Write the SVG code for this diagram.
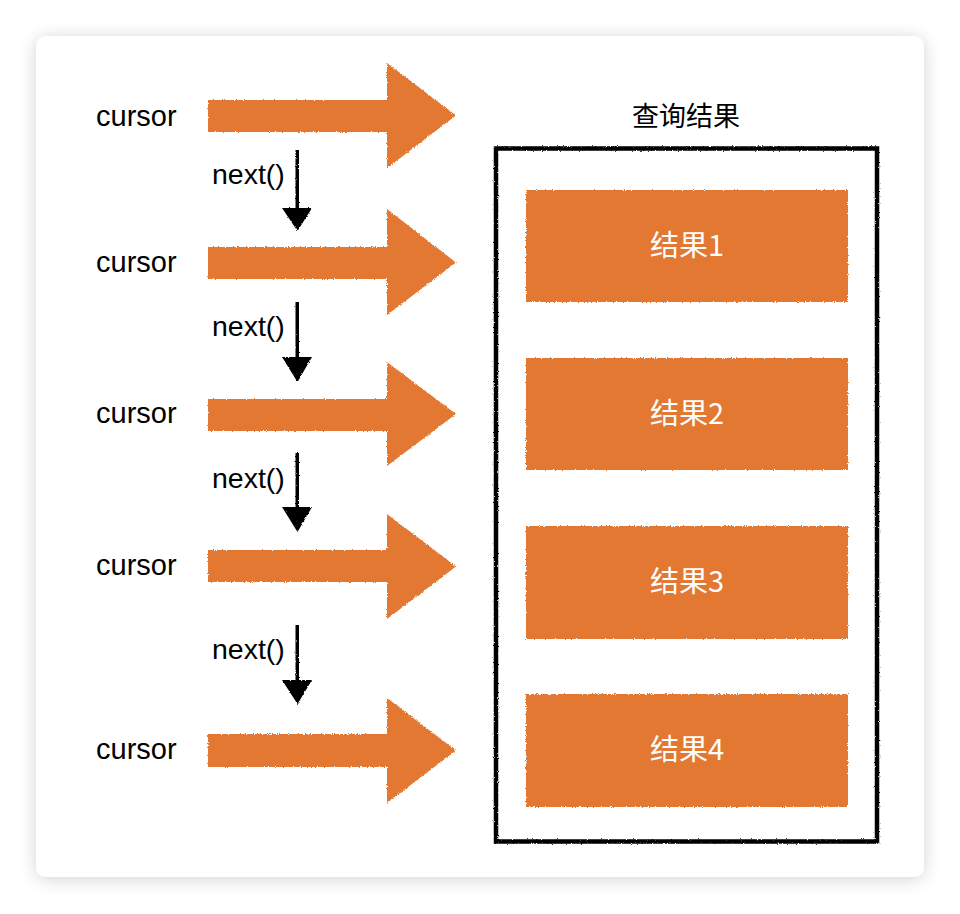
<svg xmlns="http://www.w3.org/2000/svg" width="960" height="914" viewBox="0 0 960 914">
<defs>
<filter id="shadow" x="-10%" y="-10%" width="120%" height="120%">
<feGaussianBlur in="SourceAlpha" stdDeviation="9"/>
<feOffset dx="0" dy="2" result="b"/>
<feComponentTransfer><feFuncA type="linear" slope="0.18"/></feComponentTransfer>
<feMerge><feMergeNode/><feMergeNode in="SourceGraphic"/></feMerge>
</filter>
<filter id="rough" x="-5%" y="-5%" width="110%" height="110%">
<feTurbulence type="fractalNoise" baseFrequency="0.9" numOctaves="2" seed="3" result="n"/>
<feDisplacementMap in="SourceGraphic" in2="n" scale="3" xChannelSelector="R" yChannelSelector="G"/>
</filter>
<filter id="roughK" x="-5%" y="-5%" width="110%" height="110%">
<feTurbulence type="fractalNoise" baseFrequency="1.2" numOctaves="2" seed="7" result="n"/>
<feDisplacementMap in="SourceGraphic" in2="n" scale="2.5" xChannelSelector="R" yChannelSelector="G"/>
</filter>
</defs>
<style>
.lbl{font-family:"Liberation Sans","Noto Sans CJK SC",sans-serif;font-size:29px;fill:#000}
.nxt{font-family:"Liberation Sans","Noto Sans CJK SC",sans-serif;font-size:28.5px;fill:#000}
.ttl{font-family:"Noto Sans CJK SC","Liberation Sans",sans-serif;font-size:27px;fill:#000;text-anchor:middle}
.res{font-family:"Noto Sans CJK SC","Liberation Sans",sans-serif;font-size:29px;fill:#fff;text-anchor:middle}
.org{fill:#E27830}
.blk{fill:#000}
</style>
<rect width="960" height="914" fill="#ffffff"/>
<rect x="36" y="36" width="888" height="841" rx="10" fill="#ffffff" filter="url(#shadow)"/>

<g id="cursor-labels">
<text class="lbl" x="96" y="126">cursor</text>
<text class="lbl" x="96" y="272">cursor</text>
<text class="lbl" x="96" y="423">cursor</text>
<text class="lbl" x="96" y="575">cursor</text>
<text class="lbl" x="96" y="759">cursor</text>
</g>

<g id="connectors">
<g filter="url(#rough)" class="org">
<path id="arrow1" d="M208 100 H387 V63 L456 115.5 L387 168 V132 H208 Z"/>
<path id="arrow2" d="M208 247 H387 V209 L456 262.5 L387 315 V279 H208 Z"/>
<path id="arrow3" d="M208 399 H387 V362 L456 414 L387 466 V431 H208 Z"/>
<path id="arrow4" d="M208 550 H387 V514 L456 566.5 L387 619 V582 H208 Z"/>
<path id="arrow5" d="M208 734 H387 V698 L456 750.5 L387 803 V767 H208 Z"/>
</g>
<g filter="url(#roughK)" class="blk">
<path d="M295.5 150 H299 V208 H312 L297.5 231 L282 208 H295.5 Z"/>
<path d="M295.5 302 H299 V357 H312 L297.5 382 L282 357 H295.5 Z"/>
<path d="M295.5 453 H299 V507 H312 L297.5 532 L282 507 H295.5 Z"/>
<path d="M295.5 625 H299 V680 H312 L297.5 704 L282 680 H295.5 Z"/>
</g>
<text class="nxt" x="212" y="184">next()</text>
<text class="nxt" x="212" y="336">next()</text>
<text class="nxt" x="212" y="488">next()</text>
<text class="nxt" x="212" y="659">next()</text>
</g>

<g id="results-container">
<text class="ttl" x="686" y="126">查询结果</text>
<rect x="496" y="148.5" width="381" height="693" fill="none" stroke="#000" stroke-width="4.5" filter="url(#roughK)"/>
</g>

<g id="result1">
<rect class="org" x="526" y="190" width="322" height="112" filter="url(#rough)"/>
<text class="res" x="687" y="256">结果1</text>
</g>
<g id="result2">
<rect class="org" x="526" y="358" width="322" height="112" filter="url(#rough)"/>
<text class="res" x="687" y="424">结果2</text>
</g>
<g id="result3">
<rect class="org" x="526" y="526" width="322" height="113" filter="url(#rough)"/>
<text class="res" x="687" y="592">结果3</text>
</g>
<g id="result4">
<rect class="org" x="526" y="694" width="322" height="113" filter="url(#rough)"/>
<text class="res" x="687" y="760">结果4</text>
</g>
</svg>
